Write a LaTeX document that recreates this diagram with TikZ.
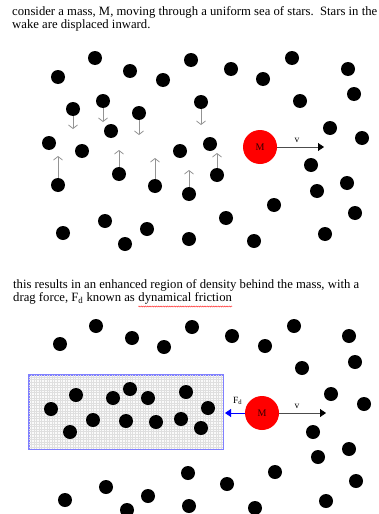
\documentclass[tikz,border=0pt]{standalone}
\usepackage{fontspec}
\setmainfont{Liberation Serif}
\usetikzlibrary{arrows.meta,decorations.pathmorphing}
\begin{document}
\begin{tikzpicture}[x=1pt,y=-1pt,
  star/.style={circle,fill=black,inner sep=0pt,minimum size=14pt},
  wake/.style={draw=gray!85, line width=0.8pt, -{Straight Barb[length=3.5pt,width=9pt]}},
  txt/.style={inner sep=0pt, anchor=base west, font=\fontsize{12.7}{15}\selectfont},
  mass/.style={circle, fill=red, inner sep=0pt, minimum size=34pt, text=black!80!red, font=\fontsize{10}{11}\selectfont},
  vel/.style={draw=gray!60!black, line width=0.8pt, -{Triangle[length=6pt,width=8pt,color=black,fill=black]}},
  drag/.style={draw=blue, line width=0.8pt, -{Triangle[length=6pt,width=8pt,color=blue,fill=blue]}},
  lbl/.style={inner sep=0pt, font=\fontsize{9.5}{10}\selectfont},
  region/.style={draw=blue!50, line width=1pt, fill=gray!4}]
\useasboundingbox (0,0) rectangle (378,514);

% ---- texts
\node[txt] (l1) at (12,15) {consider a mass, M, moving through a uniform sea of stars.\ \ Stars in the};
\node[txt] (l2) at (12,28) {wake are displaced inward.};
\node[txt] (l3) at (13,288) {this results in an enhanced region of density behind the mass, with a};
\node[txt] (l4a) at (13,301) {drag force, F\textsubscript{d} known as};
\node[txt] (l4b) at ([xshift=3.2pt]l4a.base east) {dynamical friction};
\draw[red!80, line width=0.5pt, decorate, decoration={snake, amplitude=0.5pt, segment length=2.2pt}]
  ([yshift=-5.5pt]l4b.base west) -- ([yshift=-5.5pt]l4b.base east);

% ---- top sea of stars
\foreach \n/\x/\y in {1/95/58, 2/58/77, 3/130/71, 4/163/80, 5/191/60, 6/231/69, 7/263/79,
  8/292/58, 9/348/69, 10/300/101, 11/354/94, 12/73/109, 13/103/101, 14/139/113, 15/201/102,
  16/111/131, 17/49/143, 18/82/151, 19/180/151, 20/210/144, 21/330/128, 22/362/138,
  23/58/185, 24/119/174, 25/155/186, 26/189/194, 27/217/175, 28/311/165, 29/347/183,
  30/317/191, 31/274/205, 32/226/218, 33/355/213, 34/325/234, 35/254/241, 36/189/239,
  37/63/233, 38/105/221, 39/125/244, 40/147/229}
  \node[star] (t\n) at (\x,\y) {};

% displacement arrows
\coordinate (w12) at (73,129);
\coordinate (w13) at (103,122);
\coordinate (w14) at (139,135);
\coordinate (w15) at (201,125);
\coordinate (w23) at (58,156);
\coordinate (w24) at (119,150);
\coordinate (w25) at (155,158);
\coordinate (w26) at (189,170);
\coordinate (w27) at (217,153);
\foreach \n in {12,13,14,15,23,24,25,26,27}
  \draw[wake] (t\n) -- (w\n);

% mass 1
\node[mass] (M1) at (260,147) {M};
\coordinate (v1) at (324,147);
\draw[vel] (M1) -- (v1);
\node[lbl] (v1l) at (297,140) {v};

% ---- bottom
\node[region, minimum width=194pt, minimum height=74pt, inner sep=0pt] (reg) at (126,412) {};
\begin{scope}
  \clip (29,375) rectangle (223,449);
  \draw[gray!25, line width=0.25pt, step=2.6pt] (29,375) grid (223,449);
\end{scope}
\draw[blue!50, line width=1pt] (reg.south west) rectangle (reg.north east);

\foreach \n/\x/\y in {1/51/409, 2/76/395, 3/70/432, 4/93/420, 5/113/398, 6/130/389, 7/126/421,
  8/148/398, 9/156/422, 10/186/392, 11/181/419, 12/201/428, 13/208/408}
  \node[star] (r\n) at (\x,\y) {};

\foreach \n/\x/\y in {1/60/344, 2/96/326, 3/132/338, 4/164/347, 5/192/327, 6/232/336, 7/265/346,
  8/294/326, 9/349/336, 10/355/362, 11/302/368, 12/331/394, 13/364/404, 14/313/432,
  15/349/449, 16/318/457, 17/275/472, 18/227/484, 19/356/481, 20/326/501, 21/255/508,
  22/188/473, 23/189/506, 24/106/487, 25/65/500, 26/148/496, 27/127/510}
  \node[star] (b\n) at (\x,\y) {};

% mass 2
\node[mass] (M2) at (262,413) {M};
\coordinate (v2) at (326,413);
\draw[vel] (M2) -- (v2);
\node[lbl] (v2l) at (297,406) {v};
\coordinate (fd) at (225,413);
\draw[drag] (M2) -- (fd);
\node[lbl, anchor=base west] (fdl) at (233,403) {F\textsubscript{d}};
\end{tikzpicture}
\end{document}
